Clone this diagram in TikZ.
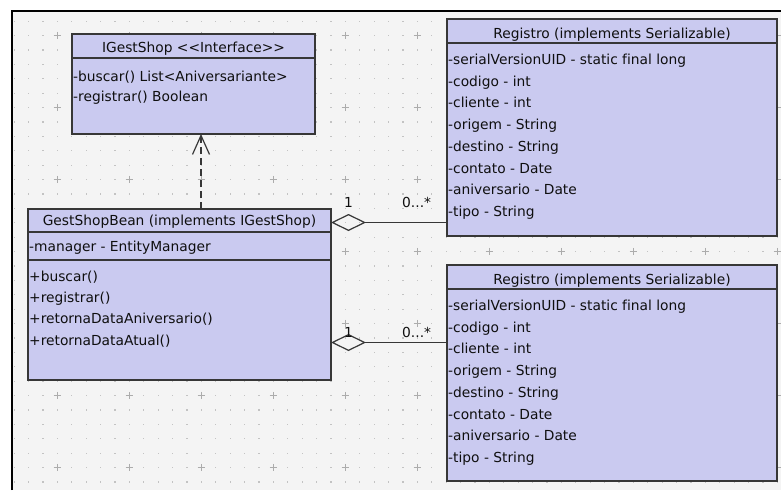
\documentclass[tikz,border=0pt]{standalone}
\usepackage{fontspec}
\setmainfont{DejaVu Sans}[Ligatures=NoCommon]
\usetikzlibrary{arrows.meta}
\definecolor{bgc}{RGB}{244,244,244}
\definecolor{gdot}{RGB}{195,195,195}
\definecolor{gcross}{RGB}{172,172,172}
\definecolor{clsfill}{RGB}{202,202,240}
\definecolor{clsline}{RGB}{55,55,55}
\definecolor{txt}{RGB}{15,15,15}
\begin{document}
\begin{tikzpicture}[x=1pt,y=-1pt,
  cls/.style={draw=clsline, fill=clsfill, line width=1.3pt, inner sep=0pt, outer sep=0pt, anchor=north west},
  sepline/.style={draw=clsline, line width=1.3pt},
  lbl/.style={font=\fontsize{13.8}{15}\selectfont, text=txt, inner sep=0pt},
  attrrow/.style={lbl, anchor=base west},
  ttl/.style={lbl, anchor=base},
  dep/.style={draw=clsline, line width=1.2pt, dash pattern=on 7pt off 4pt, -{Straight Barb[length=19pt,width=17pt]}},
  agg/.style={draw=clsline, line width=1.2pt, {Diamond[open,length=35pt,width=17pt]}-},
]
\useasboundingbox (0,0) rectangle (781,490);
\fill[white] (0,0) rectangle (781,490);
\fill[bgc] (12,11) rectangle (781,490);
% grid dots
\foreach \i in {0,...,53} {
  \foreach \j in {0,...,32} {
    \fill[gdot] ({14.1+14.4*\i-0.6},{21.1+14.4*\j-0.6}) rectangle ++(1.2,1.2);
  }
}
% grid crosses
\foreach \i in {0,...,10} {
  \foreach \j in {0,...,6} {
    \draw[gcross, line width=0.8pt] ({57.3+72*\i-3.6},{35.5+72*\j}) -- ++(7.2,0);
    \draw[gcross, line width=0.8pt] ({57.3+72*\i},{35.5+72*\j-3.6}) -- ++(0,7.2);
  }
}
% frame
\draw[black, line width=2pt] (12,490) -- (12,11) -- (781,11);

% interface
\node[cls, minimum width=243pt, minimum height=100pt] (ifc) at (72,34) {};
\draw[sepline] (ifc.west |- 0,58) -- (ifc.east |- 0,58);
\node[ttl] (ifct) at (193.5,52.7) {IGestShop {<}{<}Interface{>}{>}};
\node[attrrow] (ifc1) at (73,81) {-buscar() List<Aniversariante>};
\node[attrrow] (ifc2) at (73,101.5) {-registrar() Boolean};

% GestShopBean
\node[cls, minimum width=303pt, minimum height=171pt] (gsb) at (28,209) {};
\draw[sepline] (gsb.west |- 0,232) -- (gsb.east |- 0,232);
\draw[sepline] (gsb.west |- 0,260) -- (gsb.east |- 0,260);
\node[ttl] (gsbt) at (179.5,225.5) {GestShopBean (implements IGestShop)};
\node[attrrow] (gsba) at (29,251.5) {-manager - EntityManager};
\node[attrrow] (gsbm1) at (29,281) {+buscar()};
\node[attrrow] (gsbm2) at (29,302.3) {+registrar()};
\node[attrrow] (gsbm3) at (29,323.6) {+retornaDataAniversario()};
\node[attrrow] (gsbm4) at (29,345) {+retornaDataAtual()};

% Registro boxes
\foreach \nm/\top/\sep/\h in {reg1/19/43/217, reg2/265/289/216} {
  \node[cls, minimum width=330pt, minimum height=\h pt] (\nm) at (447,\top) {};
  \draw[sepline] (\nm.west |- 0,\sep) -- (\nm.east |- 0,\sep);
  \node[ttl] (\nm t) at (612,{\sep-4.5}) {Registro (implements Serializable)};
  \foreach \txt [count=\k from 0] in {-serialVersionUID - static final long,-codigo - int,-cliente - int,-origem - String,-destino - String,-contato - Date,-aniversario - Date,-tipo - String} {
    \node[attrrow] (\nm r\k) at (448,{\sep+21.5+21.7*\k}) {\txt};
  }
}

% dependency (realization)
\draw[dep] (gsb.north -| 201,0) -- (ifc.south -| 201,0);

% aggregations
\draw[agg] (gsb.east |- 0,222.5) -- (reg1.west |- 0,222.5);
\draw[agg] (gsb.east |- 0,342.5) -- (reg2.west |- 0,342.5);
\node[lbl, anchor=base] (m1a) at (348.5,207.5) {1};
\node[lbl, anchor=base west] (m1b) at (402,207.5) {0...*};
\node[lbl, anchor=base] (m2a) at (348.5,337.5) {1};
\node[lbl, anchor=base west] (m2b) at (402,337.5) {0...*};
\end{tikzpicture}
\end{document}
